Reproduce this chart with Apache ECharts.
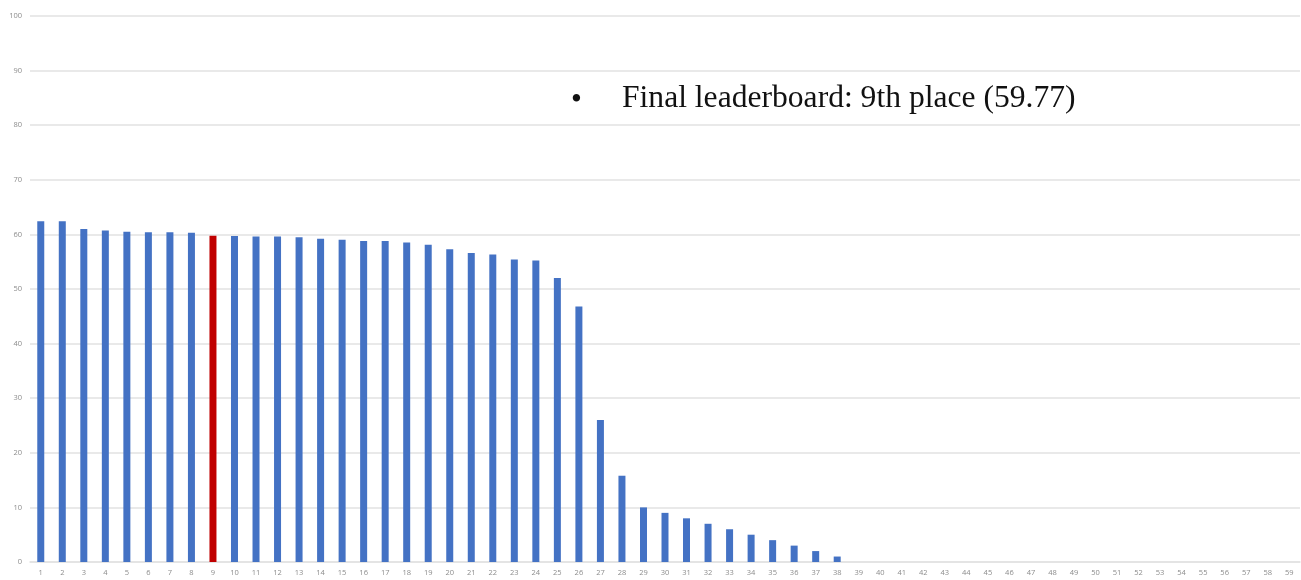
<!DOCTYPE html>
<html>
<head>
<meta charset="utf-8">
<title>Leaderboard scores</title>
<script src="https://cdn.jsdelivr.net/npm/echarts@6/dist/echarts.min.js"></script>
<style>
  html, body { margin: 0; padding: 0; background: #ffffff; }
  #chart { width: 1301px; height: 580px; }
</style>
</head>
<body>
<div id="chart"></div>
<script>
// Leaderboard ranks (x axis categories)
var ranks = [
  '1','2','3','4','5','6','7','8','9','10',
  '11','12','13','14','15','16','17','18','19','20',
  '21','22','23','24','25','26','27','28','29','30',
  '31','32','33','34','35','36','37','38','39','40',
  '41','42','43','44','45','46','47','48','49','50',
  '51','52','53','54','55','56','57','58','59'
];

// Final score for each rank
var scores = [
  62.4, 62.4, 61.0, 60.7, 60.5, 60.4, 60.4, 60.3, 59.77, 59.7,
  59.6, 59.6, 59.5, 59.2, 59.0, 58.8, 58.8, 58.5, 58.1, 57.3,
  56.6, 56.3, 55.4, 55.2, 52.0, 46.8, 26.0, 15.8, 10.0, 9.0,
  8.0, 7.0, 6.0, 5.0, 4.0, 3.0, 2.0, 1.0, 0, 0,
  0, 0, 0, 0, 0, 0, 0, 0, 0, 0,
  0, 0, 0, 0, 0, 0, 0, 0, 0
];

// Y axis ticks
var yMin = 0;
var yMax = 100;
var yStep = 10;

// Our team's rank, drawn in red
var ourRank = '9';
var noteText = 'Final leaderboard: 9th place (59.77)';

var barData = scores.map(function (v, i) {
  return ranks[i] === ourRank
    ? { value: v, itemStyle: { color: '#C00000' } }
    : { value: v };
});

var chart = echarts.init(document.getElementById('chart'), null, { renderer: 'canvas' });

chart.setOption({
  animation: false,
  backgroundColor: '#ffffff',
  grid: { left: 30, right: 1, top: 16, bottom: 18, containLabel: false },
  xAxis: {
    type: 'category',
    data: ranks,
    axisLine: { show: true, lineStyle: { color: '#e2e2e2', width: 1.5 } },
    axisTick: { show: false },
    axisLabel: {
      interval: 0,
      color: '#8c8c8c',
      fontSize: 7.5,
      fontFamily: 'Open Sans',
      margin: 7
    },
    splitLine: { show: false }
  },
  yAxis: {
    type: 'value',
    min: yMin,
    max: yMax,
    interval: yStep,
    axisLine: { show: false },
    axisTick: { show: false },
    axisLabel: {
      color: '#8c8c8c',
      fontSize: 7.5,
      fontFamily: 'Open Sans',
      margin: 8
    },
    splitLine: { show: true, lineStyle: { color: '#e2e2e2', width: 1.5 } }
  },
  series: [{
    type: 'bar',
    data: barData,
    barWidth: 7,
    itemStyle: { color: '#4472C4' }
  }],
  graphic: [
    {
      type: 'text',
      left: 571,
      top: 85,
      style: {
        text: '\u2022',
        font: '31px "Liberation Serif"',
        fill: '#111111'
      }
    },
    {
      type: 'text',
      left: 622,
      top: 83,
      style: {
        text: noteText,
        font: '31.6px "Liberation Serif"',
        fill: '#111111'
      }
    }
  ]
});
</script>
</body>
</html>
